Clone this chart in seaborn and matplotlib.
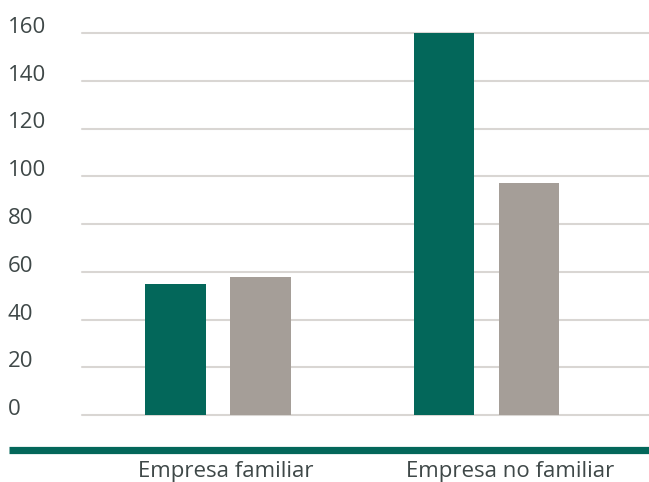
import numpy as np
import pandas as pd
import matplotlib
matplotlib.use("Agg")
import matplotlib.pyplot as plt
import seaborn as sns
from matplotlib.lines import Line2D

categories = ["Empresa familiar", "Empresa no familiar"]
series_names = ["Serie 1", "Serie 2"]
values_s1 = [55, 160]
values_s2 = [58, 97]
y_ticks = [0, 20, 40, 60, 80, 100, 120, 140, 160]

GREEN = "#03675a"
GREY = "#a59e98"
GRID = "#d9d6d3"
TEXT = "#3f4848"

df = pd.DataFrame({
    "cat": categories * 2,
    "serie": [series_names[0]] * 2 + [series_names[1]] * 2,
    "val": values_s1 + values_s2,
})

sns.set_theme(style="white")
plt.rcParams["font.family"] = ["Open Sans", "DejaVu Sans"]

fig = plt.figure(figsize=(6.49, 4.82), dpi=100)
W, H = 649, 482
ax = fig.add_axes([82 / W, (H - 415) / H, (649 - 82) / W, (415 - 33) / H])

sns.barplot(data=df, x="cat", y="val", hue="serie", order=categories,
            hue_order=series_names, palette=[GREEN, GREY], width=0.633, gap=0.283,
            saturation=1, linewidth=0, legend=False, ax=ax)

# category spacing in px is ~268, axes spans 82..649
ax.set_xlim((82 - 218) / 268.5, (649 - 218) / 268.5)
ax.set_ylim(0, 160)
ax.set_yticks(y_ticks)
ax.set_yticklabels([str(t) for t in y_ticks])
for t in y_ticks:
    ax.axhline(t, color=GRID, lw=1.5, zorder=0, clip_on=False)

ax.set_xticks([(226 - 218) / 268.5, (510 - 218) / 268.5])
ax.set_xticklabels(categories)
ax.set_xlabel("")
ax.set_ylabel("")

for s in ax.spines.values():
    s.set_visible(False)
ax.tick_params(axis="y", length=0, pad=74 * 0.72, labelsize=16, labelcolor=TEXT)
ax.tick_params(axis="x", length=0, pad=33, labelsize=16, labelcolor=TEXT)
for lab in ax.get_yticklabels():
    lab.set_horizontalalignment("left")
    lab.set_verticalalignment("baseline")

# thick green baseline below the plot
fig.add_artist(Line2D([9 / W, 1.0], [(H - 449.5) / H] * 2, color=GREEN, lw=5.2,
                      transform=fig.transFigure, solid_capstyle="butt"))

fig.savefig("out.png", dpi=100)
